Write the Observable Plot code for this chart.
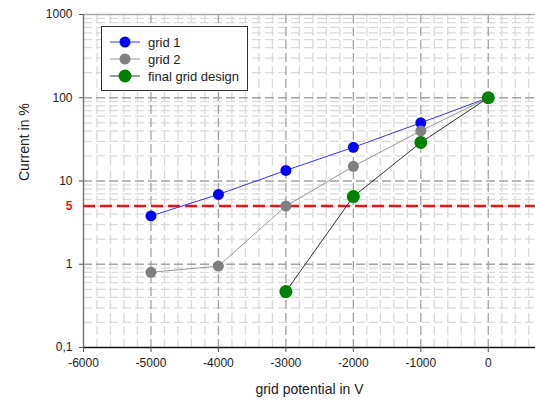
<!DOCTYPE html>
<html>
<head>
<meta charset="utf-8">
<script src="https://cdn.jsdelivr.net/npm/d3@7"></script>
<script src="https://cdn.jsdelivr.net/npm/@observablehq/plot@0.6"></script>
<style>
  body { margin: 0; background: #fff; }
  #wrap { position: relative; width: 535px; height: 403px; font-family: "Liberation Sans", Arial, sans-serif; }
  #legend { position: absolute; left: 101px; top: 26px; width: 145px; height: 63px; border: 1px solid #333; background: #fff; font-size: 13px; color: #222; }
  .item { position: absolute; left: 8px; height: 16px; display: flex; align-items: center; }
  .item span { margin-left: 8px; }
</style>
</head>
<body>
<div id="wrap"></div>
<script>
// Data
const seriesNames = ["grid 1", "grid 2", "final grid design"];
const seriesColors = ["#0000ff", "#808080", "#008000"];
const lineColors = ["#3333ff", "#999999", "#333333"];
const dotRadius = [5.5, 5.5, 6.5];

const grid1X = [-5000, -4000, -3000, -2000, -1000, 0];
const grid1Y = [3.8, 6.9, 13.4, 25.4, 50, 100];
const grid2X = [-5000, -4000, -3000, -2000, -1000, 0];
const grid2Y = [0.8, 0.95, 5.0, 15, 40, 100];
const finalX = [-3000, -2000, -1000, 0];
const finalY = [0.47, 6.5, 29, 100];

const limitValue = 5;
const xTicks = [-6000, -5000, -4000, -3000, -2000, -1000, 0];
const yTicks = [0.1, 1, 10, 100, 1000];
const yTickLabels = ["0,1", "1", "10", "100", "1000"];

const xMinor = d3.range(-5800, 700, 200).filter(v => v % 1000 !== 0);
const xMajor = [-5000, -4000, -3000, -2000, -1000, 0];
const yMinor = [];
[0.1, 1, 10, 100].forEach(dec => { for (let m = 2; m <= 9; m++) yMinor.push(+(dec * m).toPrecision(3)); });
const yMajor = [1, 10, 100];

const build = (xs, ys, s) => xs.map((x, i) => ({x, y: ys[i], s}));
const series = [
  build(grid1X, grid1Y, seriesNames[0]),
  build(grid2X, grid2Y, seriesNames[1]),
  build(finalX, finalY, seriesNames[2])
];
const yLabelMap = new Map(yTicks.map((t, i) => [t, yTickLabels[i]]));

const chart = Plot.plot({
  width: 535, height: 403,
  marginLeft: 83, marginRight: 0, marginTop: 14, marginBottom: 56,
  style: {fontFamily: "'Liberation Sans', Arial, sans-serif", fontSize: "12px", color: "#222", background: "#fff"},
  x: {domain: [-6000, 700]},
  y: {type: "log", domain: [0.1, 1000]},
  marks: [
    Plot.ruleX(xMinor, {stroke: "#dadada", strokeWidth: 1.3, strokeDasharray: "9,4"}),
    Plot.ruleY(yMinor, {stroke: "#dadada", strokeWidth: 1.3, strokeDasharray: "9,4"}),
    Plot.ruleX(xMajor, {stroke: "#a4a4a4", strokeWidth: 1.3, strokeDasharray: "9,4"}),
    Plot.ruleY(yMajor, {stroke: "#a4a4a4", strokeWidth: 1.3, strokeDasharray: "9,4"}),
    Plot.ruleY([1000], {stroke: "#aaa", strokeWidth: 1.5}),
    Plot.ruleX([-6000], {stroke: "#777", strokeWidth: 1.5}),
    Plot.ruleY([0.1], {stroke: "#111", strokeWidth: 1.5}),
    Plot.axisX({ticks: xTicks, tickFormat: d => String(d), tickSize: 5, tickPadding: 6, label: null, stroke: "#555"}),
    Plot.axisY({ticks: yTicks, tickFormat: d => yLabelMap.get(d) ?? String(d), tickSize: 4, tickPadding: 7, label: null, stroke: "#555"}),
    Plot.ruleY([limitValue], {stroke: "#ee1111", strokeWidth: 2.5, strokeDasharray: "12,5"}),
    Plot.text([limitValue], {y: d => d, frameAnchor: "left", dx: -11, textAnchor: "end", text: d => String(d), fill: "#ee1111", fontWeight: "bold", fontSize: 12}),
    ...series.map((s, i) => Plot.line(s, {x: "x", y: "y", stroke: lineColors[i], strokeWidth: 1})),
    ...series.map((s, i) => Plot.dot(s, {x: "x", y: "y", r: dotRadius[i], fill: seriesColors[i], stroke: "none"})),
    Plot.text(["grid potential in V"], {frameAnchor: "bottom", dy: 46, fontSize: 14, fill: "#222"}),
    Plot.text(["Current in %"], {frameAnchor: "left", rotate: -90, dx: -59, fontSize: 14, fill: "#222"})
  ]
});

const wrap = document.getElementById("wrap");
wrap.appendChild(chart);

// Legend
const legend = document.createElement("div");
legend.id = "legend";
seriesNames.forEach((name, i) => {
  const item = document.createElement("div");
  item.className = "item";
  item.style.top = (7 + i * 17) + "px";
  const r = dotRadius[i];
  item.innerHTML = `<svg width="30" height="16"><line x1="0" y1="8" x2="30" y2="8" stroke="${lineColors[i]}" stroke-width="1"/><circle cx="15" cy="8" r="${r}" fill="${seriesColors[i]}"/></svg><span>${name}</span>`;
  legend.appendChild(item);
});
wrap.appendChild(legend);
</script>
</body>
</html>
